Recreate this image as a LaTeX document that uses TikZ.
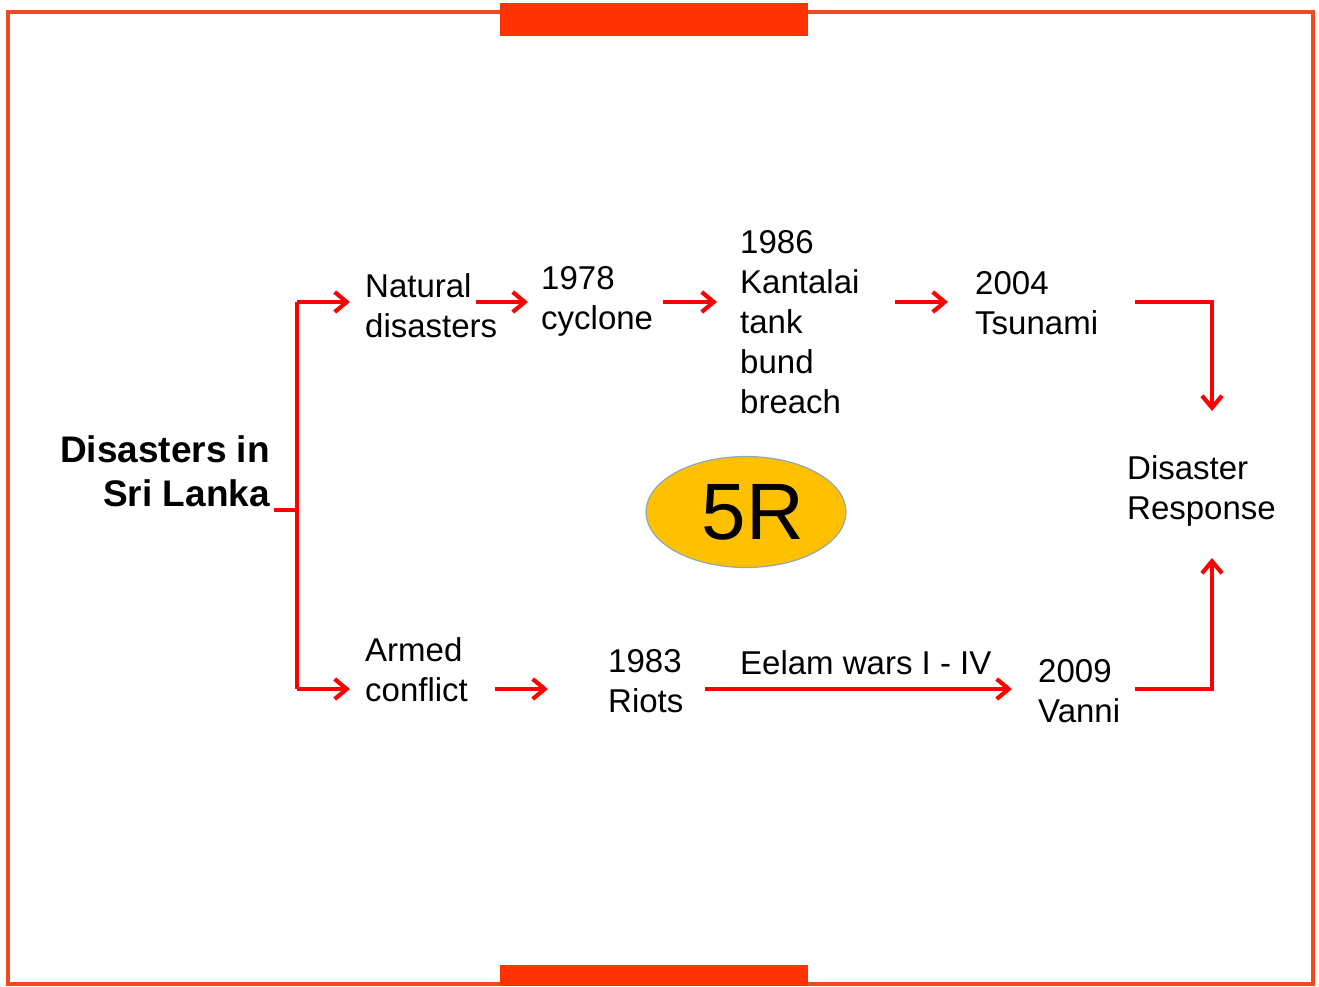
\documentclass[tikz,border=0pt]{standalone}
\usepackage{fontspec}
\setmainfont{Liberation Sans}
\usetikzlibrary{arrows.meta,shapes.geometric}
\definecolor{frameorange}{HTML}{F04A1E}
\definecolor{barorange}{HTML}{FF3300}
\definecolor{linkred}{HTML}{FF0000}
\definecolor{ovalfill}{HTML}{FFC000}
\definecolor{ovaledge}{HTML}{8FA8B4}
\begin{document}
\begin{tikzpicture}[x=1pt,y=-1pt,
  lbl/.style={anchor=base west,inner sep=0pt,align=left,
    font=\fontsize{33}{40}\selectfont},
  link/.style={draw=linkred,line width=3.6pt},
  arr/.style={link,-{Straight Barb[length=12pt,width=20pt,line width=4.2pt]}}]
\useasboundingbox (0,0) rectangle (1319,986);
% frame and bars
\draw[frameorange,line width=3.4pt] (8,12) rectangle (1313,984);
\fill[barorange] (500,3) rectangle (808,36);
\fill[barorange] (500,965) rectangle (808,986);

% texts (anchored at the baseline of their last line)
\node[anchor=base east,inner sep=0pt,align=right,
  font=\fontsize{37}{44}\bfseries\selectfont] (root) at (270,506) {Disasters in\\Sri Lanka};
\node[lbl] (nat) at (365,337) {Natural\\disasters};
\node[lbl] (c78) at (541,329) {1978\\cyclone};
\node[lbl] (k86) at (740,413) {1986\\Kantalai\\tank\\bund\\breach};
\node[lbl] (t04) at (975,334) {2004\\Tsunami};
\node[lbl] (resp) at (1127,519) {Disaster\\Response};
\node[lbl] (arm) at (365,701) {Armed\\conflict};
\node[lbl] (r83) at (608,712) {1983\\Riots};
\node[lbl] (eel) at (740,674) {Eelam wars I - IV};
\node[lbl] (v09) at (1038,722) {2009\\Vanni};

% 5R oval
\node[draw=ovaledge,fill=ovalfill,line width=1.2pt,ellipse,minimum width=200pt,
  minimum height=111pt,inner sep=0pt,font=\fontsize{80}{90}\selectfont] (five) at (746,512) {\hspace{14pt}5R};

% connector end points
\coordinate (rootfoot) at (274,510);
\coordinate (spineT) at (297,302);
\coordinate (spineB) at (297,689);
\coordinate (natIn) at (350,302);
\coordinate (armIn) at (350,689);
\coordinate (natOut) at (476,302);
\coordinate (c78In) at (528,302);
\coordinate (c78Out) at (663,302);
\coordinate (k86In) at (717,302);
\coordinate (k86Out) at (895,302);
\coordinate (t04In) at (948,302);
\coordinate (t04Out) at (1135,302);
\coordinate (cornerT) at (1212,302);
\coordinate (respTop) at (1212,411);
\coordinate (armOut) at (495,689);
\coordinate (r83In) at (548,689);
\coordinate (r83Out) at (705,689);
\coordinate (v09In) at (1012,689);
\coordinate (v09Out) at (1135,689);
\coordinate (cornerB) at (1212,689);
\coordinate (respBot) at (1212,558);

% connectors
\draw[link] (rootfoot) -- (297,510);
\draw[link] (spineT) -- (spineB);
\draw[arr] (spineT) -- (natIn);
\draw[arr] (spineB) -- (armIn);
\draw[arr] (natOut) -- (c78In);
\draw[arr] (c78Out) -- (k86In);
\draw[arr] (k86Out) -- (t04In);
\draw[arr] (t04Out) -- (cornerT) -- (respTop);
\draw[arr] (armOut) -- (r83In);
\draw[arr] (r83Out) -- (v09In);
\draw[arr] (v09Out) -- (cornerB) -- (respBot);
\end{tikzpicture}
\end{document}
